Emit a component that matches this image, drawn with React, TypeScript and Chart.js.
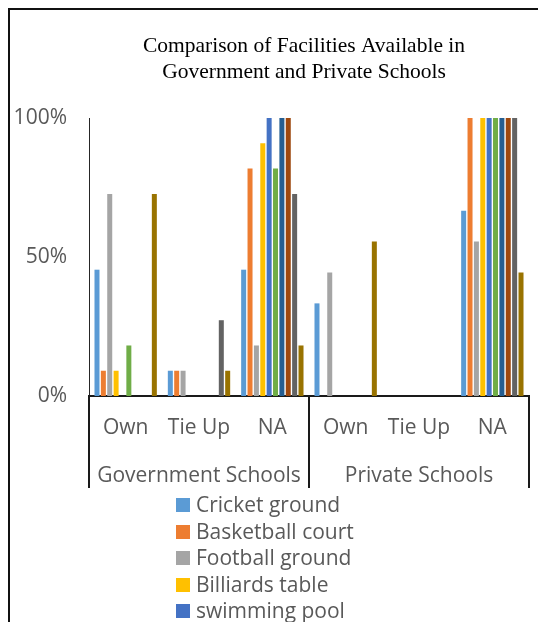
import React, { useEffect, useRef } from "react";
import { Chart, registerables } from "chart.js";

Chart.register(...registerables);

const titleLines = ["Comparison of Facilities Available in", "Government and Private Schools"];
const categories = ["Own", "Tie Up", "NA", "Own", "Tie Up", "NA"];
const groups = ["Government Schools", "Private Schools"];
const yTicks = [0, 50, 100];

const seriesNames = [
  "Cricket ground",
  "Basketball court",
  "Football ground",
  "Billiards table",
  "swimming pool",
  "Tennis court",
  "Volleyball court",
  "Badminton court",
  "Gymnasium",
  "Indoor games",
];

const seriesColors = [
  "#5B9BD5",
  "#ED7D31",
  "#A5A5A5",
  "#FFC000",
  "#4472C4",
  "#70AD47",
  "#255E91",
  "#9E480E",
  "#636363",
  "#997300",
];

// values in % for [Gov Own, Gov Tie Up, Gov NA, Pvt Own, Pvt Tie Up, Pvt NA]
const cricket = [45.45, 9.09, 45.45, 33.33, 0, 66.67];
const basketball = [9.09, 9.09, 81.82, 0, 0, 100];
const football = [72.73, 9.09, 18.18, 44.44, 0, 55.56];
const billiards = [9.09, 0, 90.91, 0, 0, 100];
const swimming = [0, 0, 100, 0, 0, 100];
const series6 = [18.18, 0, 81.82, 0, 0, 100];
const series7 = [0, 0, 100, 0, 0, 100];
const series8 = [0, 0, 100, 0, 0, 100];
const series9 = [0, 27.27, 72.73, 0, 0, 100];
const series10 = [72.73, 9.09, 18.18, 55.56, 0, 44.44];

const seriesValues = [cricket, basketball, football, billiards, swimming, series6, series7, series8, series9, series10];

const TEXT = "#595959";
const FONT = "'Open Sans'";
const FS = 21;

const stackedLegend = {
  id: "stackedLegend",
  afterDraw(chart: any) {
    const { ctx } = chart;
    const x2 = chart.scales.x2;
    const left = chart.width / 2 - 128;
    let y = x2.bottom + 13;
    ctx.save();
    ctx.font = `${FS}px ${FONT}`;
    ctx.textBaseline = "middle";
    ctx.textAlign = "left";
    chart.data.datasets.forEach((ds: any) => {
      ctx.fillStyle = ds.backgroundColor;
      ctx.fillRect(left, Math.round(y - 7), 14, 14);
      ctx.fillStyle = TEXT;
      ctx.fillText(ds.label, left + 20, y + 1);
      y += 26.6;
    });
    ctx.restore();
  },
};

export default function App() {
  const canvasRef = useRef<HTMLCanvasElement | null>(null);

  useEffect(() => {
    if (!canvasRef.current) return;
    const chart = new Chart(canvasRef.current, {
      type: "bar",
      data: {
        labels: categories,
        datasets: seriesNames.map((name, i) => ({
          label: name,
          data: seriesValues[i],
          backgroundColor: seriesColors[i],
          borderWidth: 0,
          categoryPercentage: 0.869,
          barPercentage: 0.785,
        })),
      },
      options: {
        animation: false,
        responsive: false,
        devicePixelRatio: 1,
        events: [],
        layout: { padding: { left: 0, right: 0, top: 0, bottom: 238 } },
        plugins: {
          legend: { display: false },
          tooltip: { enabled: false },
          title: {
            display: true,
            text: titleLines,
            color: "#000",
            font: { family: "'Liberation Serif'", size: 21.5, weight: "normal", lineHeight: 1.2 },
            padding: { top: 23.5, bottom: 33 },
          },
        },
        scales: {
          y: {
            min: 0,
            max: 100,
            afterFit: (s: any) => {
              s.width = 79;
            },
            afterBuildTicks: (s: any) => {
              s.ticks = yTicks.map((v) => ({ value: v }));
            },
            ticks: {
              color: TEXT,
              font: { family: FONT, size: FS },
              padding: 22,
              callback: (v: any) => `${v}%`,
            },
            grid: { display: false, drawTicks: false },
            border: { display: true, color: "#262626", width: 1 },
          },
          yRightSpace: {
            type: "linear",
            position: "right",
            display: true,
            afterFit: (s: any) => {
              s.width = 69;
            },
            ticks: { display: false },
            grid: { display: false, drawTicks: false },
            border: { display: false },
          },
          x: {
            type: "category",
            position: "bottom",
            weight: 0,
            afterFit: (s: any) => {
              s.height = 48;
            },
            ticks: {
              color: TEXT,
              font: { family: FONT, size: FS },
              autoSkip: false,
              maxRotation: 0,
              padding: -72.5,
            },
            grid: {
              display: true,
              offset: true,
              drawOnChartArea: false,
              drawTicks: true,
              tickLength: 92,
              lineWidth: 2,
              color: (ctx: any) =>
                ctx.index === undefined || ctx.index % 3 === 0 ? "#1a1a1a" : "rgba(0,0,0,0)",
            },
            border: { display: true, color: "#1a1a1a", width: 2 },
          },
          x2: {
            type: "category",
            position: "bottom",
            weight: 1,
            labels: groups,
            offset: true,
            afterFit: (s: any) => {
              s.height = 48;
            },
            ticks: {
              color: TEXT,
              font: { family: FONT, size: FS },
              autoSkip: false,
              maxRotation: 0,
              padding: 19,
            },
            grid: { display: false, drawTicks: false },
            border: { display: false },
          },
        },
      },
      plugins: [stackedLegend],
    } as any);
    return () => chart.destroy();
  }, []);

  return (
    <div
      style={{
        position: "fixed",
        left: 8,
        top: 8,
        width: 530,
        height: 614,
        overflow: "hidden",
      }}
    >
      <div style={{ border: "2px solid #111", width: 588, height: 720, background: "#fff" }}>
        <canvas ref={canvasRef} width={588} height={720} style={{ display: "block" }} />
      </div>
    </div>
  );
}
